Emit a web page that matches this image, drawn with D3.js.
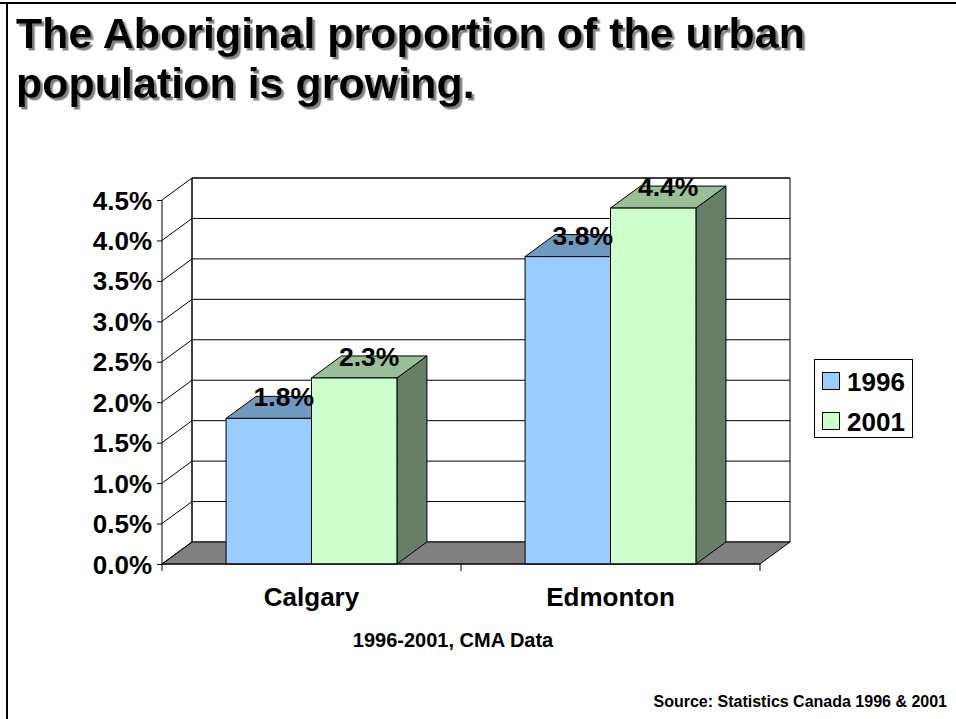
<!DOCTYPE html>
<html>
<head>
<meta charset="utf-8">
<script src="https://cdn.jsdelivr.net/npm/d3@7"></script>
<style>
  html, body { margin: 0; padding: 0; background: #fff; }
  svg { display: block; }
  text { font-family: Arial, "Liberation Sans", sans-serif; font-weight: bold; fill: #000; }
</style>
</head>
<body>
<svg id="chart" width="956" height="719"></svg>
<script>
// Aboriginal share of the urban population, by census metropolitan area
const categories = ["Calgary", "Edmonton"];
const seriesNames = ["1996", "2001"];
const values1996 = [0.018, 0.038];
const values2001 = [0.023, 0.044];
const tickValues = [0, 0.005, 0.01, 0.015, 0.02, 0.025, 0.03, 0.035, 0.04, 0.045];
const titleLines = ["The Aboriginal proportion of the urban", "population is growing."];

const seriesValues = [values1996, values2001];
const fronts = ["#99ccff", "#ccffcc"];
const tops = ["#7099bf", "#99bf99"];
const sides = ["#5c7a99", "#667f66"];

const svg = d3.select("#chart");

// soft drop shadow for the title
const defs = svg.append("defs");
defs.append("filter").attr("id", "titleShadow")
  .attr("x", "-5%").attr("y", "-20%").attr("width", "110%").attr("height", "140%")
  .append("feDropShadow")
  .attr("dx", 2.5).attr("dy", 2.5).attr("stdDeviation", 0.7)
  .attr("flood-color", "#808080").attr("flood-opacity", 1);

// slide frame (top and left rules)
svg.append("rect").attr("x", 0).attr("y", 2).attr("width", 956).attr("height", 2).attr("fill", "#000");
svg.append("rect").attr("x", 6).attr("y", 2).attr("width", 2).attr("height", 717).attr("fill", "#000");

// title
titleLines.forEach((t, i) => {
  svg.append("text").attr("x", 16).attr("y", 48 + i * 50)
    .attr("font-size", 43).attr("filter", "url(#titleShadow)").text(t);
});

// 3-D plot geometry
const plotL = 162, plotR = 760, plotB = 564, plotT = 200;
const dx = 30, dy = -22;

const y = d3.scaleLinear().domain([0, 0.045]).range([plotB, plotT]);
const x0 = d3.scaleBand().domain(categories).range([plotL, plotR]).padding(0);
const step = x0.bandwidth();
const gap = step * 1.5 / 3.5;
const x1 = d3.scaleBand().domain(seriesNames).range([gap / 2, step - gap / 2]).padding(0);

const g = svg.append("g");
const line = (pts) => "M" + pts.map(p => p.join(",")).join("L");

// back wall
g.append("path")
  .attr("d", line([[plotL + dx, y(0.045) + dy], [plotR + dx, y(0.045) + dy], [plotR + dx, y(0) + dy], [plotL + dx, y(0) + dy]]) + "Z")
  .attr("fill", "#fff").attr("stroke", "#000").attr("stroke-width", 1);

// floor
g.append("path")
  .attr("d", line([[plotL, y(0)], [plotR, y(0)], [plotR + dx, y(0) + dy], [plotL + dx, y(0) + dy]]) + "Z")
  .attr("fill", "#808080").attr("stroke", "#000").attr("stroke-width", 1);

// gridlines on back wall and side wall
tickValues.forEach(v => {
  if (v > 0) {
    g.append("line")
      .attr("x1", plotL + dx).attr("x2", plotR + dx)
      .attr("y1", y(v) + dy).attr("y2", y(v) + dy)
      .attr("stroke", "#000").attr("stroke-width", 1);
  }
  g.append("line")
    .attr("x1", plotL).attr("x2", plotL + dx)
    .attr("y1", y(v)).attr("y2", y(v) + dy)
    .attr("stroke", "#000").attr("stroke-width", 1);
});

// left wall back edge
g.append("line").attr("x1", plotL + dx).attr("x2", plotL + dx)
  .attr("y1", y(0.045) + dy).attr("y2", y(0) + dy)
  .attr("stroke", "#000");

// value axis
const yAxis = d3.axisLeft(y).tickValues(tickValues).tickSize(5).tickFormat(d3.format(".1%"));
const ya = svg.append("g").attr("transform", `translate(${plotL},0)`).call(yAxis);
ya.select(".domain").attr("stroke", "#000").attr("d", `M0,${y(0.045)}V${y(0)}`);
ya.selectAll(".tick line").attr("stroke", "#000");
ya.selectAll(".tick text").attr("font-size", 26).attr("x", -10).attr("dy", "0.35em")
  .style("font-family", "Arial, 'Liberation Sans', sans-serif").style("font-weight", "bold").attr("fill", "#000");

// bars
categories.forEach((c, ci) => {
  seriesNames.forEach((s, si) => {
    const v = seriesValues[si][ci];
    const bx0 = x0(c) + x1(s);
    const bx1 = bx0 + x1.bandwidth();
    const yt = y(v), yb = y(0);
    const bar = g.append("g");
    bar.append("path")
      .attr("d", line([[bx1, yt], [bx1 + dx, yt + dy], [bx1 + dx, yb + dy], [bx1, yb]]) + "Z")
      .attr("fill", sides[si]).attr("stroke", "#000").attr("stroke-width", 1);
    bar.append("path")
      .attr("d", line([[bx0, yt], [bx1, yt], [bx1 + dx, yt + dy], [bx0 + dx, yt + dy]]) + "Z")
      .attr("fill", tops[si]).attr("stroke", "#000").attr("stroke-width", 1);
    bar.append("rect")
      .attr("x", bx0).attr("y", yt).attr("width", bx1 - bx0).attr("height", yb - yt)
      .attr("fill", fronts[si]).attr("stroke", "#000").attr("stroke-width", 1);
  });
});

// data labels
categories.forEach((c, ci) => {
  seriesNames.forEach((s, si) => {
    const v = seriesValues[si][ci];
    const cx = x0(c) + x1(s) + x1.bandwidth() / 2 + 15;
    svg.append("text").attr("x", cx).attr("y", y(v) - 12)
      .attr("text-anchor", "middle").attr("font-size", 26.5)
      .text(d3.format(".1%")(v));
  });
});

// category axis
const xAxis = d3.axisBottom(x0).tickSize(0).tickSizeOuter(0);
const xa = svg.append("g").attr("transform", `translate(0,${plotB})`).call(xAxis);
xa.select(".domain").remove();
xa.selectAll(".tick line").remove();
xa.selectAll(".tick text").attr("font-size", 26).attr("y", 42).attr("dy", 0)
  .style("font-family", "Arial, 'Liberation Sans', sans-serif").style("font-weight", "bold").attr("fill", "#000");
svg.append("line").attr("x1", plotL).attr("x2", plotR).attr("y1", plotB).attr("y2", plotB).attr("stroke", "#000");
[plotL, plotL + step, plotR].forEach(t => {
  svg.append("line").attr("x1", t).attr("x2", t).attr("y1", plotB).attr("y2", plotB + 7).attr("stroke", "#000");
});

// axis title
svg.append("text").attr("x", 453).attr("y", 647).attr("text-anchor", "middle")
  .attr("font-size", 20).text("1996-2001, CMA Data");

// legend
const lg = svg.append("g");
lg.append("rect").attr("x", 814.5).attr("y", 359.5).attr("width", 98).attr("height", 78)
  .attr("fill", "#fff").attr("stroke", "#000");
seriesNames.forEach((s, si) => {
  lg.append("rect").attr("x", 822.5).attr("y", 372.5 + si * 40).attr("width", 17).attr("height", 17)
    .attr("fill", fronts[si]).attr("stroke", "#000");
  lg.append("text").attr("x", 847).attr("y", 391 + si * 40).attr("font-size", 26).text(s);
});

// source note
svg.append("text").attr("x", 947).attr("y", 707).attr("text-anchor", "end")
  .attr("font-size", 16).text("Source: Statistics Canada 1996 & 2001");
</script>
</body>
</html>
